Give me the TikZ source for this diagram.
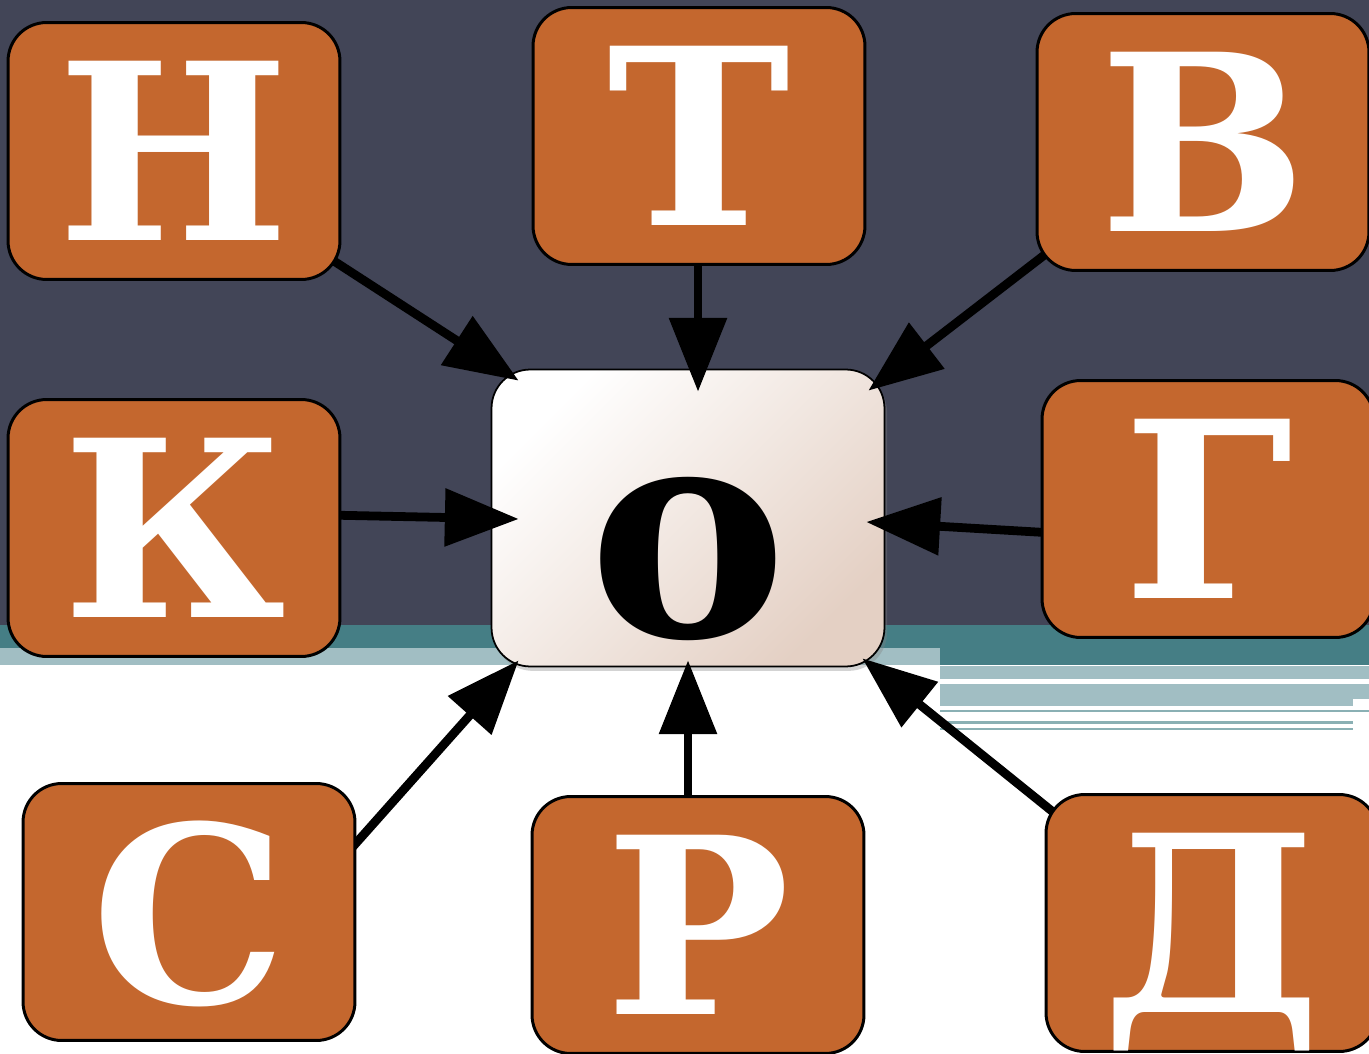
\documentclass[tikz,border=0pt]{standalone}
\usepackage{fontspec}
\setmainfont{DejaVu Serif}
\usepackage{tikz}
\usepackage{xcolor}
\usetikzlibrary{positioning, arrows.meta, calc, shadows, backgrounds}
\definecolor{bgslate}{RGB}{66, 69, 87}
\definecolor{bgteal}{RGB}{69, 126, 133}
\definecolor{bglight}{RGB}{161, 190, 195}
\definecolor{bgline}{RGB}{138, 176, 180}
\definecolor{boxorange}{RGB}{196, 103, 46}
\definecolor{centertan}{RGB}{228, 208, 196}
\pgfdeclarelayer{bottom}
\pgfsetlayers{bottom,background,main}
\tikzset{
    letterbox/.style={rectangle, rounded corners=22pt, draw=black, line width=1.7pt, fill=boxorange, text=white,
        minimum width=6.64cm, minimum height=5.14cm, inner sep=0pt, text depth=0pt, font=\fontsize{140}{140}\selectfont\bfseries},
    centerbox/.style={rectangle, rounded corners=22pt, draw=black, line width=1pt, top color=white, bottom color=centertan,
        shading angle=45, text=black, minimum width=7.86cm, minimum height=5.94cm, inner sep=0pt, text height=135pt, text depth=0pt,
        drop shadow={shadow xshift=1.5pt, shadow yshift=-2.5pt, opacity=0.35}, font=\fontsize{170}{170}\selectfont\bfseries},
    arr/.style={line width=5pt, -{Triangle[length=42pt, width=32pt]}}
}

\begin{document}
\begin{tikzpicture}[x=0.02cm, y=-0.02cm]
    \useasboundingbox (0,0) rectangle (1369,1054);
    \begin{pgfonlayer}{bottom}
        \fill[bgslate] (0,0) rectangle (1369,625);
        \fill[bgteal] (0,625) rectangle (1369,648);
        \fill[bgteal] (940,648) rectangle (1369,665);
        \fill[bglight] (0,648) rectangle (940,665);
        \fill[bglight] (940,666) rectangle (1369,679);
        \fill[bglight] (940,684) rectangle (1369,699);
        \fill[bglight] (940,699) rectangle (1353,706);
        \fill[bgline] (940,710) rectangle (1369,712);
        \fill[bgline] (940,721) rectangle (1353,724);
        \fill[bgline] (940,728) rectangle (1353,730);
    \end{pgfonlayer}

    \begin{pgfonlayer}{background}
        \node[centerbox] (o) at (688,518) {о};
    \end{pgfonlayer}
    \node[letterbox] (n) at (174,151) {Н};
    \node[letterbox] (t) at (699,136) {Т};
    \node[letterbox] (v) at (1203,142) {В};
    \node[letterbox] (k) at (174,528) {К};
    \node[letterbox] (g) at (1208,509) {Г};
    \node[letterbox] (s) at (189,912) {С};
    \node[letterbox] (r) at (698,925) {Р};
    \node[letterbox] (d) at (1212,923) {Д};

    \begin{pgfonlayer}{background}
        \draw[arr] ($(n.south east)+(-20,-28)$) -- ($(o.north west)+(28,12)$);
        \draw[arr] ($(t.south)+(-1,-15)$) -- ($(o.north)+(10,23)$);
        \draw[arr] ($(v.south west)+(18,-24)$) -- ($(o.north east)+(-17,22)$);
        \draw[arr] ($(k.east)+(-15,-13)$) -- ($(o.west)+(28,1)$);
        \draw[arr] ($(g.west)+(13,24)$) -- ($(o.east)+(-19,4)$);
        \draw[arr] ($(s.north east)+(-11,73)$) -- ($(o.south west)+(28,-7)$);
        \draw[arr] ($(r.north)+(-10,15)$) -- ($(o.south)+(0,-7)$);
        \draw[arr] ($(d.north west)+(16,25)$) -- ($(o.south east)+(-23,-9)$);
    \end{pgfonlayer}
\end{tikzpicture}
\end{document}
